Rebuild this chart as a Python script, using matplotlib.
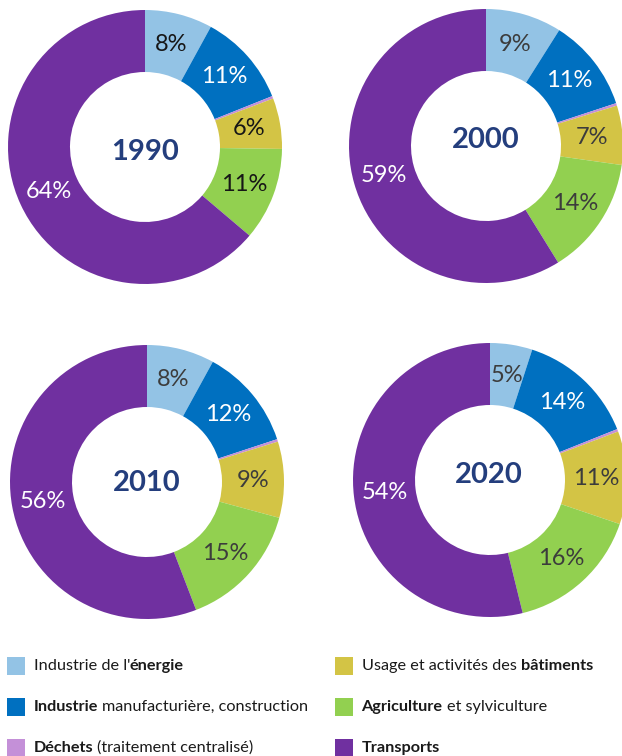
import matplotlib
matplotlib.use('Agg')
import matplotlib.pyplot as plt
import numpy as np

# ---------------- data ----------------
categories = ["Industrie de l'énergie",
              "Industrie manufacturière, construction",
              "Déchets (traitement centralisé)",
              "Usage et activités des bâtiments",
              "Agriculture et sylviculture",
              "Transports"]
legend_markup = ["Industrie de l'**énergie**",
                 "**Industrie** manufacturière, construction",
                 "**Déchets** (traitement centralisé)",
                 "Usage et activités des **bâtiments**",
                 "**Agriculture** et sylviculture",
                 "**Transports**"]
years = ["1990", "2000", "2010", "2020"]
share_1990 = [8, 11, 0.3, 6, 11, 64]
share_2000 = [9, 11, 0.3, 7, 14, 59]
share_2010 = [8, 12, 0.3, 9, 15, 56]
share_2020 = [5, 14, 0.3, 11, 16, 54]
show_label = [True, True, False, True, True, True]

colors = ["#93c3e5", "#0070c0", "#c490d8", "#d3c445", "#92d050", "#7030a0"]
white_label = [False, True, False, False, False, True]

FONT = ['Lato', 'DejaVu Sans']
plt.rcParams['font.family'] = FONT

W, H = 622, 756
fig = plt.figure(figsize=(W / 100, H / 100), dpi=100)
ax = fig.add_axes([0, 0, 1, 1])

# layout (pixel coords from top-left)
centers = [(145, 147), (486, 146), (147, 482), (490, 480)]
year_pos = [(145, 152), (486, 140), (147, 483), (489, 475)]
R_OUT, R_IN = 137, 75
shares = [share_1990, share_2000, share_2010, share_2020]
dark_label = ['#161616', '#3c3c3c', '#3c3c3c', '#3c3c3c']

for k, (vals, (cx, cy)) in enumerate(zip(shares, centers)):
    c = (cx, H - cy)
    wedges, _ = ax.pie(vals, colors=colors, startangle=90, counterclock=False,
                       radius=R_OUT, center=c,
                       wedgeprops=dict(width=R_OUT - R_IN, linewidth=0))
    rmid = (R_OUT + R_IN) / 2
    for i, w in enumerate(wedges):
        if not show_label[i]:
            continue
        ang = np.deg2rad((w.theta1 + w.theta2) / 2)
        x = c[0] + rmid * np.cos(ang)
        y = c[1] + rmid * np.sin(ang)
        col = 'white' if white_label[i] else dark_label[k]
        ax.text(x, y, f"{vals[i]:g}%", ha='center', va='center',
                fontsize=17, color=col)
    yx, yy = year_pos[k]
    ax.text(yx, H - yy, years[k], ha='center', va='center', fontsize=21,
            fontweight='bold', color='#243e7d')

ax.set_xlim(0, W)
ax.set_ylim(0, H)
ax.set_aspect('auto')
ax.axis('off')

# ---------------- legend ----------------
renderer = fig.canvas.get_renderer()
LFS = 11.7


def text_width(s, bold):
    t = ax.text(0, -100, s, fontsize=LFS, fontweight='bold' if bold else 'normal')
    w = t.get_window_extent(renderer).width
    t.remove()
    return w


def advance(s, bold):
    return text_width('|' + s + '|', bold) - text_width('||', bold)


SQ = 18
leg_pos = [(7, 666), (7, 707), (7, 748), (335, 666), (335, 707), (335, 748)]
for i, (sx, sy) in enumerate(leg_pos):
    ax.add_patch(plt.Rectangle((sx, H - sy - SQ / 2), SQ, SQ, color=colors[i],
                               linewidth=0))
    x = sx + 26.5
    segs = legend_markup[i].split('**')
    for j, seg in enumerate(segs):
        if not seg:
            continue
        bold = (j % 2 == 1)
        lead = len(seg) - len(seg.lstrip(' '))
        trail = len(seg) - len(seg.rstrip(' '))
        sp = advance(' ', bold)
        x += lead * sp
        core = seg.strip(' ')
        ax.text(x, H - sy, core, fontsize=LFS, ha='left', va='center',
                fontweight='bold' if bold else 'normal', color='#1a1a1a')
        x += advance(core, bold) + trail * sp

fig.savefig('out.png', dpi=100)
